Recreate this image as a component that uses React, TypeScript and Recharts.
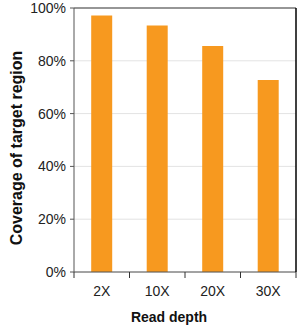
import React from 'react';
import { BarChart, Bar, XAxis, YAxis, CartesianGrid, ReferenceLine } from 'recharts';

const categories = ['2X', '10X', '20X', '30X'];
const coverage = [97.2, 93.4, 85.6, 72.7];
const yTicks = [0, 20, 40, 60, 80, 100];

const data = categories.map((c, i) => ({ depth: c, coverage: coverage[i] }));

const W = 301;
const H = 326;
const margin = { top: 8, right: 4, bottom: 30, left: 20 };
const Y_AXIS_W = 54;
const PLOT_W = W - margin.left - margin.right - Y_AXIS_W - 1;
const BAND = PLOT_W / categories.length;
const FONT = 'Liberation Sans, Arial, sans-serif';

const XTick = (props: any) => {
  const { x, y, payload, index } = props;
  const top = y - 8;
  return (
    <g>
      <line x1={x - BAND / 2} x2={x - BAND / 2} y1={top} y2={top + 6} stroke="#333" strokeWidth={1} />
      {index === categories.length - 1 && (
        <line x1={x + BAND / 2} x2={x + BAND / 2} y1={top} y2={top + 6} stroke="#333" strokeWidth={1} />
      )}
      <text x={x} y={y + 16} textAnchor="middle" fontSize={14} fill="#222" fontFamily={FONT}>
        {payload.value}
      </text>
    </g>
  );
};

const YLabel = () => (
  <text
    x={16}
    y={148}
    transform="rotate(-90 16 148)"
    textAnchor="middle"
    dominantBaseline="central"
    fontSize={16}
    fontWeight={700}
    fill="#111"
    fontFamily={FONT}
  >
    Coverage of target region
  </text>
);

export default function App() {
  return (
    <div style={{ position: 'absolute', left: 0, top: 0, background: '#fff' }}>
      <BarChart width={W} height={H} data={data} margin={margin} barCategoryGap="31%">
        <CartesianGrid vertical={false} stroke="#e3e3e3" />
        <XAxis
          dataKey="depth"
          tickLine={false}
          axisLine={{ stroke: '#555' }}
          tick={<XTick />}
          height={24}
          interval={0}
          label={{
            value: 'Read depth',
            position: 'bottom',
            offset: 16,
            dx: -16,
            style: { fontSize: 14, fontWeight: 700, fill: '#111', fontFamily: FONT },
          }}
        />
        <YAxis
          domain={[0, 100]}
          ticks={yTicks}
          width={Y_AXIS_W}
          tickSize={4}
          tickMargin={4}
          tickFormatter={(v) => `${v}%`}
          axisLine={{ stroke: '#555' }}
          tickLine={{ stroke: '#555' }}
          tick={{ fontSize: 14, fill: '#222', fontFamily: FONT }}
          label={<YLabel />}
        />
        <YAxis yAxisId="right" orientation="right" domain={[0, 100]} tick={false} tickLine={false} width={1} axisLine={{ stroke: '#000', strokeWidth: 1.5 }} />
        <ReferenceLine y={100} stroke="#777" strokeWidth={1.5} ifOverflow="visible" />
        <Bar dataKey="coverage" fill="#F7991F" isAnimationActive={false} />
      </BarChart>
    </div>
  );
}
